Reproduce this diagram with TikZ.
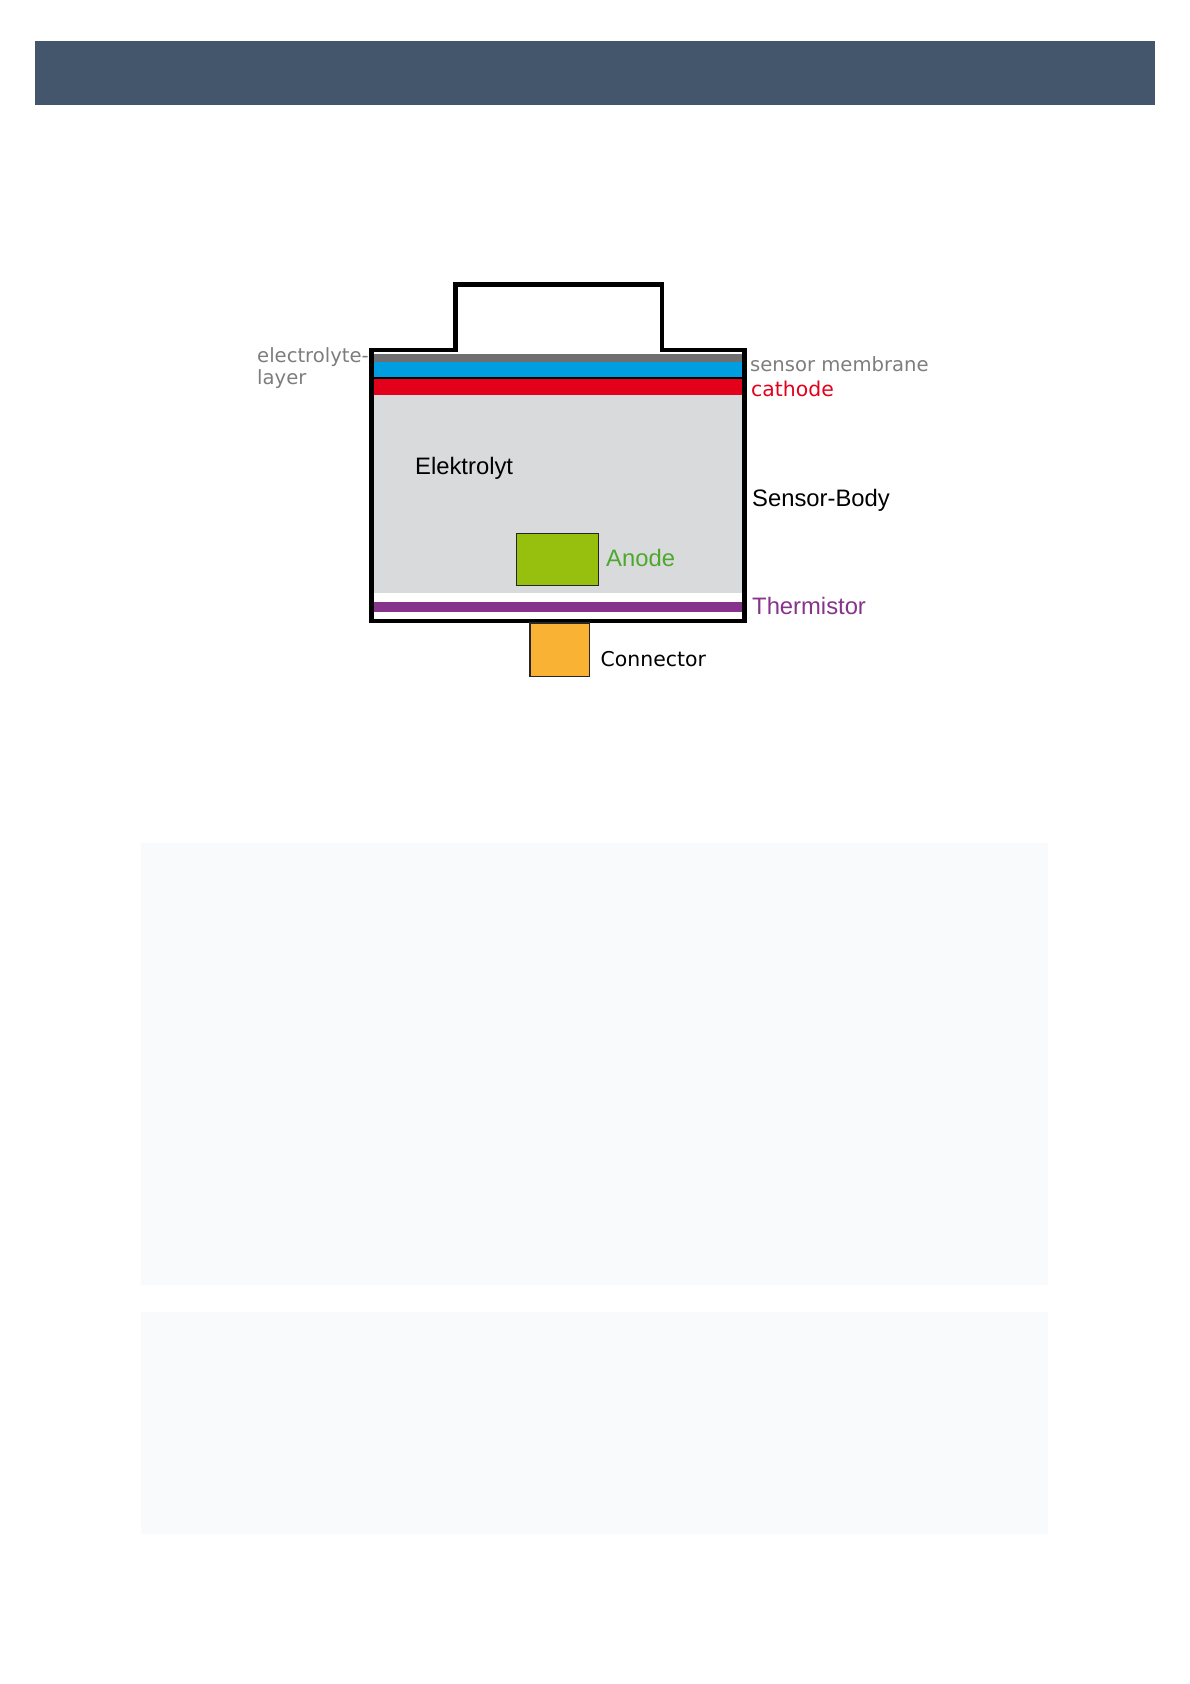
\documentclass[tikz,border=0pt]{standalone}
\usepackage{fontspec}
\setmainfont{Liberation Sans}
\newfontfamily\verdanalike{DejaVu Sans}
\definecolor{myheader}{HTML}{44566C}
\definecolor{mypanel}{HTML}{F9FAFB}
\definecolor{mygray}{HTML}{6F6F6F}
\definecolor{myblue}{HTML}{009EE0}
\definecolor{myred}{HTML}{E2001A}
\definecolor{mybody}{HTML}{D9DADB}
\definecolor{mygreen}{HTML}{97BF0D}
\definecolor{mypurple}{HTML}{86338B}
\definecolor{myorange}{HTML}{F9B233}
\definecolor{mylabelgray}{HTML}{7D7D7D}
\definecolor{mylabelgreen}{HTML}{4DA82E}
\tikzset{
	defaultlabel/.style={
			anchor=base west,
			inner sep=0pt,
			text=black,
			font=\fontsize{23.8}{26}\selectfont
		},
	widelabel/.style={
			defaultlabel,
			font=\fontsize{19.6}{23}\verdanalike
		},
	wall/.style={
			draw=black,
			line width=4.2pt,
			miter limit=10
		},
	thinbox/.style={
			draw=black!85,
			line width=1.4pt
		}
}
\begin{document}
\begin{tikzpicture}[x=1pt, y=-1pt]
\useasboundingbox (0,0) rectangle (1190,1684);

\fill[myheader] (35,41) rectangle (1155,104.5);
\fill[mypanel] (141,843) rectangle (1048,1285);
\fill[mypanel] (141,1312) rectangle (1048,1534);

% layers inside the body
\fill[mygray] (371,353.5) rectangle (743,361.7);
\fill[myblue] (371,361.7) rectangle (743,376.5);
\fill[black] (371,376.5) rectangle (743,378.5);
\fill[myred] (371,378.5) rectangle (743,394.5);
\fill[mybody] (371,394.5) rectangle (743,592.7);
\fill[mypurple] (371,602.3) rectangle (743,611.7);

% sensor outline
\draw[wall] (371.5,621) -- (371.5,350) -- (455.5,350) -- (455.5,284.5) -- (662,284.5) -- (662,350) -- (744.5,350) -- (744.5,621) -- cycle;

\draw[thinbox, fill=mygreen] (516.5,533.5) rectangle (598.5,585.5);
\draw[thinbox, line width=1.8pt, fill=myorange] (530,623) rectangle (589.5,676.5);

\node[widelabel, text=mylabelgray] (electrolyte) at (257,362) {electrolyte-};
\node[widelabel, text=mylabelgray] (layer) at (257,384) {layer};
\node[widelabel, text=mylabelgray] (membrane) at (750,371) {sensor membrane};
\node[widelabel, text=myred, font=\fontsize{20.4}{23}\verdanalike] (cathode) at (751,396) {cathode};
\node[defaultlabel] (elektrolyt) at (415,474) {Elektrolyt};
\node[defaultlabel] (body) at (752,506) {Sensor-Body};
\node[defaultlabel, text=mylabelgreen] (anode) at (606,566) {Anode};
\node[defaultlabel, text=mypurple] (thermistor) at (752,614) {Thermistor};
\node[widelabel, text=black, font=\fontsize{20.4}{23}\verdanalike] (connector) at (600.5,666) {Connector};
\end{tikzpicture}
\end{document}
